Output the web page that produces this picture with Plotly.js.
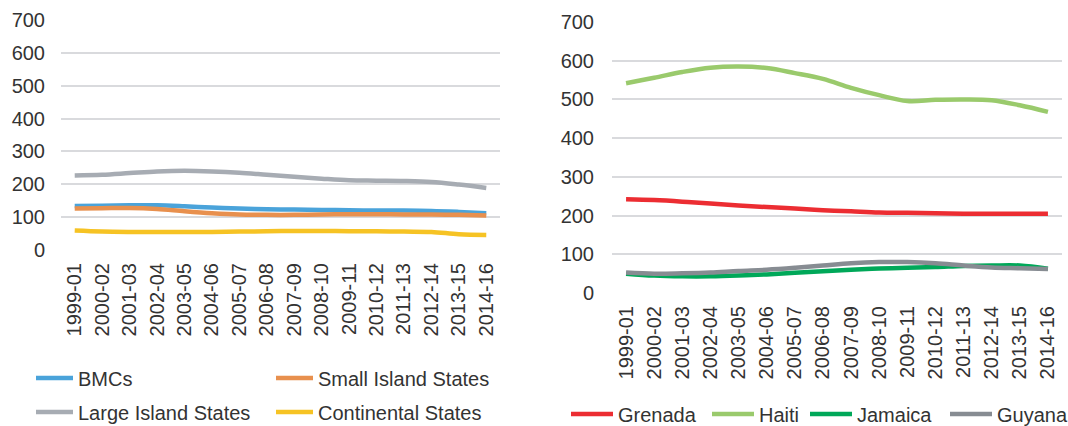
<!DOCTYPE html>
<html>
<head>
<meta charset="utf-8">
<script src="https://cdn.plot.ly/plotly-3.0.1.min.js"></script>
<style>html,body{margin:0;padding:0;background:#fff;}#chart{width:1068px;height:426px;}</style>
</head>
<body>
<div id="chart"></div>
<script>
const periods = ["1999-01","2000-02","2001-03","2002-04","2003-05","2004-06","2005-07","2006-08","2007-09","2008-10","2009-11","2010-12","2011-13","2012-14","2013-15","2014-16"];

const bmcs = [134,135,136,136,133,129,126,124,123,122,121,120,120,119,116,112];
const smallIsland = [126,127,128,125,118,112,108,107,107,108,109,109,108,108,107,105];
const largeIsland = [227,229,234,239,241,239,235,229,223,217,212,211,210,207,199,189];
const continental = [59,56,55,55,55,55,56,57,58,58,57,57,56,55,48,46];

const grenada = [242,240,236,231,226,222,218,214,211,208,207,206,205,205,205,205];
const haiti = [542,556,571,582,585,581,568,553,530,511,496,499,500,498,485,468];
const jamaica = [50,45,43,43,45,48,52,56,60,63,65,67,70,71,71,63];
const guyana = [53,50,51,53,57,60,65,71,77,80,80,77,71,66,64,62];

const W = 1068, H = 426;
const px = v => v / W;
const py = v => 1 - v / H;

function tr(name, y, color, xa, ya, leg) {
  return {type:'scatter', mode:'lines', name:name, x:periods, y:y, xaxis:xa, yaxis:ya,
    line:{color:color, width:4.5, shape:'spline', smoothing:1}, legend:leg, hoverinfo:'skip'};
}

const data = [
  tr('BMCs', bmcs, '#4aa3da', 'x', 'y', 'legend'),
  tr('Small Island States', smallIsland, '#e8904e', 'x', 'y', 'legend2'),
  tr('Large Island States', largeIsland, '#a7acb3', 'x', 'y', 'legend3'),
  tr('Continental States', continental, '#f6c324', 'x', 'y', 'legend4'),
  tr('Grenada', grenada, '#ec2d32', 'x2', 'y2', 'legend5'),
  tr('Haiti', haiti, '#9aca6c', 'x2', 'y2', 'legend6'),
  tr('Jamaica', jamaica, '#00a859', 'x2', 'y2', 'legend7'),
  tr('Guyana', guyana, '#878c92', 'x2', 'y2', 'legend8')
];

const font = {family:'"Liberation Sans", Arial, sans-serif', size:20, color:'#333333'};
const gridc = '#d9dadd';

function xax(domain, anchor) {
  return {domain:domain, anchor:anchor, type:'category', range:[-0.5,15.5], tickangle:-90,
    showgrid:false, zeroline:false, showline:false, ticks:'', tickfont:font, ticklabelstandoff:8,
    fixedrange:true, automargin:false};
}
function yax(domain, anchor, standoff) {
  return {domain:domain, anchor:anchor, range:[0,700], dtick:100, tick0:0, showgrid:true, gridcolor:gridc, gridwidth:2,
    zeroline:false, showline:false, ticks:'', tickfont:font, ticklabelstandoff:standoff, fixedrange:true, automargin:false};
}
function leg(x, y, iw) {
  return {x:px(x), y:py(y), xanchor:'left', yanchor:'middle', orientation:'h', font:font,
    bgcolor:'rgba(0,0,0,0)', borderwidth:0, itemwidth:iw, itemclick:false, itemdoubleclick:false};
}

const layout = {
  width:W, height:H, margin:{l:0,r:0,t:0,b:0,autoexpand:false}, paper_bgcolor:'#fff', plot_bgcolor:'#fff',
  font:font, showlegend:true,
  xaxis: xax([px(61), px(500)], 'y'),
  yaxis: yax([py(250), py(20)], 'x', 15),
  xaxis2: xax([px(612), px(1062)], 'y2'),
  yaxis2: yax([py(293), py(22)], 'x2', 17),
  legend: leg(31, 378, 37),
  legend2: leg(271, 378, 37),
  legend3: leg(31, 412, 37),
  legend4: leg(271, 412, 37),
  legend5: leg(566, 414, 42),
  legend6: leg(707, 414, 42),
  legend7: leg(805, 414, 42),
  legend8: leg(945, 414, 42)
};

Plotly.newPlot('chart', data, layout, {displayModeBar:false, staticPlot:true});
</script>
</body>
</html>
